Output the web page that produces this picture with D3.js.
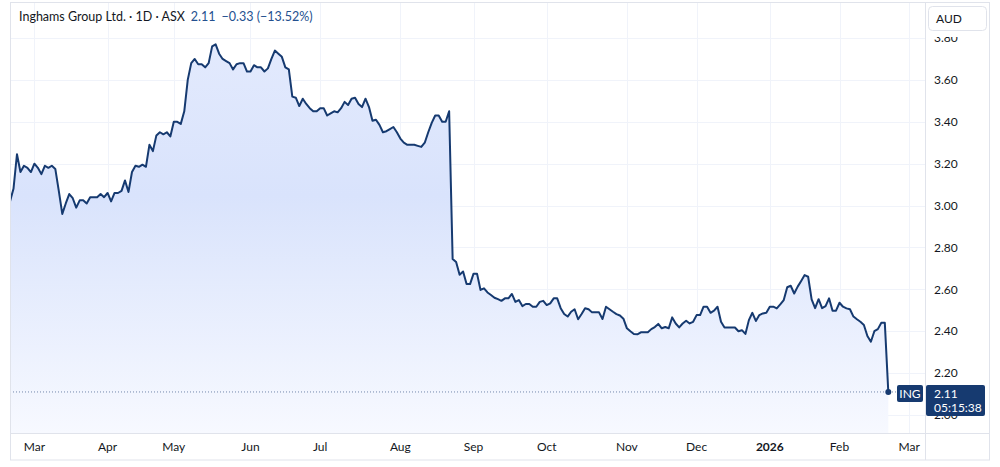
<!DOCTYPE html>
<html>
<head>
<meta charset="utf-8">
<script src="https://cdn.jsdelivr.net/npm/d3@7/dist/d3.min.js"></script>
<style>
  body { margin: 0; background: #fff; }
  text { font-family: Lato, "Open Sans", sans-serif; }
</style>
</head>
<body>
<div id="chart"></div>
<script>
// daily closes, one per trading day (Feb 2025 -> Feb 2026)
var closes = [
  3.02, 3.08, 3.245, 3.16, 3.19, 3.18, 3.16, 3.20, 3.18, 3.15,
  3.19, 3.18, 3.19, 3.175, 3.07, 2.96, 3.01, 3.055, 3.035, 2.99,
  3.025, 3.025, 3.01, 3.04, 3.04, 3.04, 3.055, 3.04, 3.06, 3.02,
  3.06, 3.06, 3.07, 3.12, 3.065, 3.16, 3.19, 3.185, 3.195, 3.185,
  3.29, 3.26, 3.335, 3.35, 3.34, 3.35, 3.33, 3.40, 3.40, 3.39,
  3.45, 3.60, 3.68, 3.70, 3.675, 3.675, 3.66, 3.68, 3.76, 3.77,
  3.725, 3.70, 3.69, 3.68, 3.65, 3.675, 3.68, 3.68, 3.64, 3.64,
  3.67, 3.66, 3.66, 3.64, 3.655, 3.70, 3.74, 3.725, 3.71, 3.66,
  3.65, 3.52, 3.515, 3.475, 3.51, 3.485, 3.465, 3.45, 3.45, 3.465,
  3.465, 3.43, 3.44, 3.45, 3.445, 3.465, 3.495, 3.48, 3.51, 3.515,
  3.485, 3.47, 3.51, 3.47, 3.405, 3.41, 3.385, 3.35, 3.355, 3.365,
  3.375, 3.35, 3.32, 3.30, 3.29, 3.29, 3.29, 3.285, 3.28, 3.30,
  3.35, 3.395, 3.43, 3.43, 3.40, 3.40, 3.45, 2.745, 2.73, 2.67,
  2.685, 2.625, 2.625, 2.675, 2.675, 2.597, 2.605, 2.585, 2.573, 2.56,
  2.553, 2.545, 2.557, 2.557, 2.578, 2.54, 2.549, 2.52, 2.53, 2.53,
  2.517, 2.517, 2.54, 2.545, 2.525, 2.533, 2.557, 2.557, 2.51, 2.482,
  2.47, 2.493, 2.505, 2.457, 2.482, 2.51, 2.505, 2.49, 2.49, 2.49,
  2.458, 2.517, 2.505, 2.493, 2.482, 2.475, 2.46, 2.414, 2.40, 2.387,
  2.385, 2.395, 2.395, 2.395, 2.41, 2.42, 2.435, 2.414, 2.42, 2.414,
  2.466, 2.437, 2.418, 2.437, 2.45, 2.437, 2.445, 2.477, 2.477, 2.517,
  2.517, 2.488, 2.498, 2.517, 2.445, 2.418, 2.418, 2.418, 2.418, 2.40,
  2.405, 2.387, 2.453, 2.488, 2.449, 2.477, 2.485, 2.488, 2.517, 2.517,
  2.509, 2.528, 2.549, 2.61, 2.617, 2.58, 2.613, 2.64, 2.668, 2.66,
  2.552, 2.51, 2.553, 2.51, 2.52, 2.557, 2.498, 2.498, 2.536, 2.517,
  2.509, 2.505, 2.47, 2.457, 2.445, 2.43, 2.377, 2.35, 2.40, 2.41,
  2.44, 2.44, 2.11
];

// month labels and the trading-day index where each month starts
var monthLabels = ["Mar", "Apr", "May", "Jun", "Jul", "Aug", "Sep", "Oct", "Nov", "Dec", "2026", "Feb", "Mar"];
var monthIdx    = [7, 28, 47, 69, 89, 112, 133, 154, 177, 197, 218, 238, 258];

var priceTicks = [2.00, 2.20, 2.40, 2.60, 2.80, 3.00, 3.20, 3.40, 3.60, 3.80];

var titleText = "Inghams Group Ltd. · 1D · ASX";
var lastText = "2.11";
var changeText = "\u22120.33 (\u221213.52%)";
var ticker = "ING";
var countdown = "05:15:38";
var currency = "AUD";

var W = 1000, H = 467;
var pane = {left: 10, right: 925, top: 3, bottom: 433};

var svg = d3.select("#chart").append("svg")
  .attr("width", W)
  .attr("height", H);

var x = d3.scaleLinear()
  .domain([0, closes.length - 1])
  .range([pane.left, 888.3]);

var y = d3.scaleLinear()
  .domain([2.0, 3.8])
  .range([415, 38]);

var defs = svg.append("defs");
var grad = defs.append("linearGradient")
  .attr("id", "areaFill")
  .attr("gradientUnits", "userSpaceOnUse")
  .attr("x1", 0).attr("x2", 0)
  .attr("y1", y(3.8)).attr("y2", pane.bottom);
grad.append("stop").attr("offset", 0).attr("stop-color", "#e3eafd");
grad.append("stop").attr("offset", 0.4).attr("stop-color", "#d9e3fc");
grad.append("stop").attr("offset", 1).attr("stop-color", "#f7f9ff");

defs.append("clipPath").attr("id", "paneClip")
  .append("rect")
  .attr("x", pane.left).attr("y", pane.top)
  .attr("width", pane.right - pane.left).attr("height", pane.bottom - pane.top);

defs.append("clipPath").attr("id", "axisClip")
  .append("rect")
  .attr("x", pane.right).attr("y", 37)
  .attr("width", 70).attr("height", pane.bottom - 37);

// grid
var grid = svg.append("g").attr("clip-path", "url(#paneClip)");
grid.selectAll(".hgrid")
  .data(priceTicks)
  .enter().append("line")
  .attr("x1", pane.left).attr("x2", pane.right)
  .attr("y1", function(d){ return Math.round(y(d)) + 0.5; })
  .attr("y2", function(d){ return Math.round(y(d)) + 0.5; })
  .style("stroke", "#f0f3fa");
grid.selectAll(".vgrid")
  .data(monthIdx)
  .enter().append("line")
  .attr("x1", function(d){ return Math.round(x(d)) + 0.5; })
  .attr("x2", function(d){ return Math.round(x(d)) + 0.5; })
  .attr("y1", pane.top).attr("y2", pane.bottom)
  .style("stroke", "#f0f3fa");

// area + line
var plot = svg.append("g").attr("clip-path", "url(#paneClip)");
var area = d3.area()
  .x(function(d, i){ return x(i); })
  .y0(pane.bottom)
  .y1(function(d){ return y(d); });
var line = d3.line()
  .x(function(d, i){ return x(i); })
  .y(function(d){ return y(d); });

plot.append("path")
  .datum(closes)
  .attr("d", area)
  .style("fill", "url(#areaFill)");

var last = closes[closes.length - 1];
plot.append("line")
  .attr("x1", pane.left).attr("x2", pane.right)
  .attr("y1", y(last)).attr("y2", y(last))
  .style("stroke", "#1e3f74")
  .style("stroke-opacity", 0.6)
  .style("stroke-dasharray", "1,2");

plot.append("path")
  .datum(closes)
  .attr("d", line)
  .style("fill", "none")
  .style("stroke", "#163a70")
  .style("stroke-width", 2)
  .style("stroke-linejoin", "round");

plot.append("circle")
  .attr("cx", x(closes.length - 1))
  .attr("cy", y(last))
  .attr("r", 3)
  .style("fill", "#163a70");

// frame and separators
svg.append("rect")
  .attr("x", 10.5).attr("y", 2.5)
  .attr("width", 979).attr("height", 457.5)
  .style("fill", "none")
  .style("stroke", "#e0e3eb");
svg.append("line")
  .attr("x1", pane.right + 0.5).attr("x2", pane.right + 0.5)
  .attr("y1", 2.5).attr("y2", 460)
  .style("stroke", "#e0e3eb");
svg.append("line")
  .attr("x1", 10.5).attr("x2", 989.5)
  .attr("y1", pane.bottom + 0.5).attr("y2", pane.bottom + 0.5)
  .style("stroke", "#e0e3eb");

// price axis
var yAxis = svg.append("g").attr("clip-path", "url(#axisClip)");
yAxis.selectAll(".ytick")
  .data(priceTicks)
  .enter().append("text")
  .attr("x", 934)
  .attr("y", function(d){ return y(d); })
  .attr("dy", "0.35em")
  .style("font-size", "12px")
  .style("fill", "#131722")
  .text(function(d){ return d3.format(".2f")(d); });

// time axis
svg.selectAll(".xtick")
  .data(monthLabels)
  .enter().append("text")
  .attr("x", function(d, i){ return x(monthIdx[i]); })
  .attr("y", 447)
  .attr("dy", "0.35em")
  .attr("text-anchor", "middle")
  .style("font-size", "12px")
  .style("font-weight", function(d){ return d === "2026" ? "bold" : "normal"; })
  .style("fill", "#131722")
  .text(function(d){ return d; });

// currency box
svg.append("rect")
  .attr("x", 928.5).attr("y", 6.5)
  .attr("width", 58).attr("height", 24)
  .attr("rx", 4)
  .style("fill", "#fff")
  .style("stroke", "#e0e3eb");
svg.append("text")
  .attr("x", 936).attr("y", 19)
  .attr("dy", "0.35em")
  .style("font-size", "12px")
  .style("fill", "#131722")
  .text(currency);

// last price labels
svg.append("rect")
  .attr("x", 897).attr("y", 385)
  .attr("width", 26).attr("height", 17)
  .attr("rx", 2)
  .style("fill", "#163a70");
svg.append("text")
  .attr("x", 910).attr("y", 393.5)
  .attr("dy", "0.35em")
  .attr("text-anchor", "middle")
  .style("font-size", "12px")
  .style("fill", "#fff")
  .text(ticker);
svg.append("rect")
  .attr("x", 926).attr("y", 385)
  .attr("width", 59).attr("height", 31)
  .attr("rx", 2)
  .style("fill", "#163a70");
svg.append("text")
  .attr("x", 934).attr("y", 393.5)
  .attr("dy", "0.35em")
  .style("font-size", "12px")
  .style("fill", "#fff")
  .text(d3.format(".2f")(last));
svg.append("text")
  .attr("x", 934).attr("y", 407.5)
  .attr("dy", "0.35em")
  .style("font-size", "12px")
  .style("fill", "#fff")
  .text(countdown);

// header
var header = svg.append("text")
  .attr("x", 19).attr("y", 17)
  .attr("dy", "0.35em")
  .style("font-size", "12.5px");
header.append("tspan").style("fill", "#131722").text(titleText);
header.append("tspan").attr("dx", 6).style("fill", "#24508f").text(lastText);
header.append("tspan").attr("dx", 6).style("fill", "#24508f").text(changeText);
</script>
</body>
</html>
